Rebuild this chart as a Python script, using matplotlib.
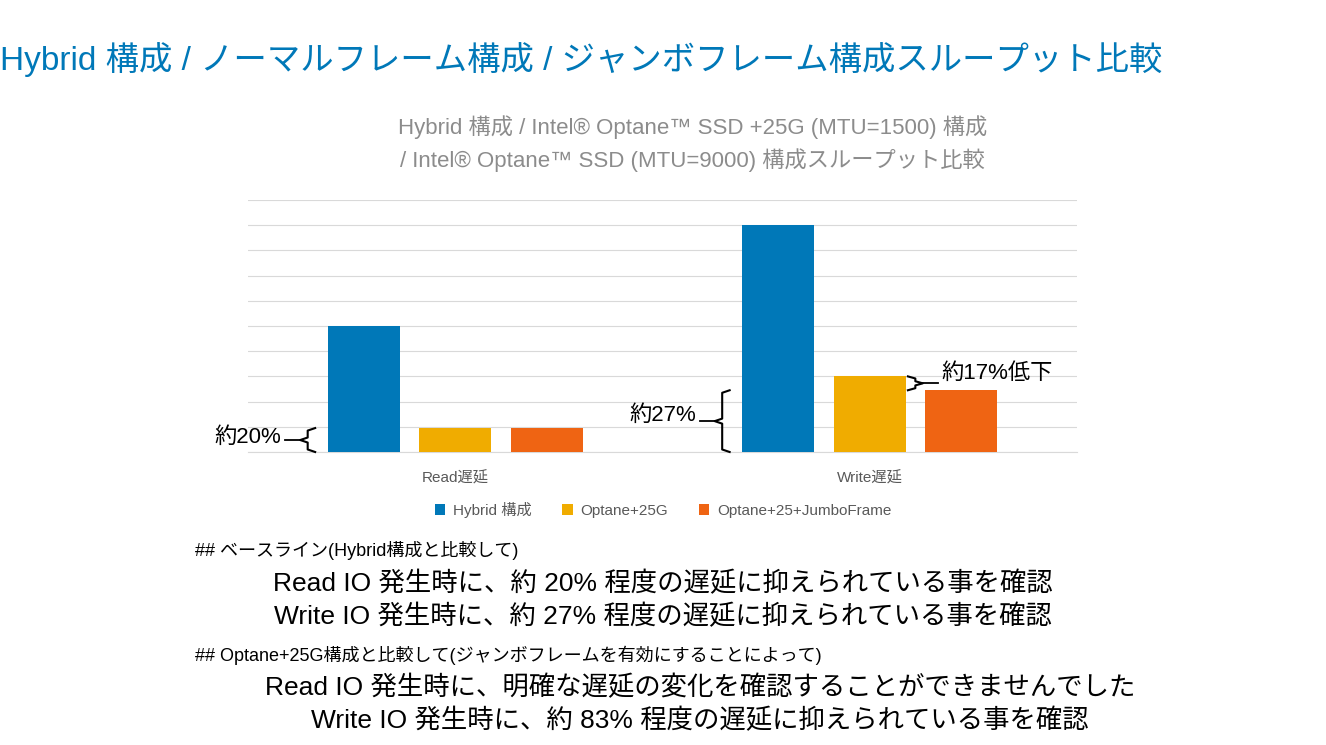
import matplotlib
matplotlib.use("Agg")
import matplotlib.pyplot as plt
import numpy as np

plt.rcParams["font.family"] = ["Liberation Sans", "Noto Sans CJK JP", "DejaVu Sans"]

categories = ["Read遅延", "Write遅延"]
series = ["Hybrid 構成", "Optane+25G", "Optane+25+JumboFrame"]
hybrid = [5.0, 9.0]
optane = [0.95, 3.0]
jumbo = [0.95, 2.45]
colors = ["#0078b8", "#f0ac00", "#ef6413"]

fig = plt.figure(figsize=(13.26, 7.45), dpi=100)
ax = fig.add_axes([248 / 1326, 1 - 452 / 745, 829 / 1326, 252 / 745])

x = np.arange(len(categories))
w = 0.174
step = 0.221
for i, (vals, c, lab) in enumerate(zip([hybrid, optane, jumbo], colors, series)):
    ax.bar(x + (i - 1) * step, vals, width=w, color=c, label=lab, zorder=3)

ax.set_xlim(-0.5, 1.5)
ax.set_ylim(0, 10)
ax.set_yticks(np.arange(0, 11, 1))
ax.yaxis.grid(True, color="#d9d9d9", linewidth=0.8)
ax.tick_params(left=False, labelleft=False, bottom=False, pad=10)
ax.set_xticks(x)
ax.set_xticklabels(categories, fontsize=11, color="#595959")
for s in ["top", "right", "left"]:
    ax.spines[s].set_visible(False)
ax.spines["bottom"].set_color("#d9d9d9")


def brace(xpos, y0, y1, label, side="left", ly=None):
    d = 0.018
    h = (y1 - y0)
    ym = (y0 + y1) / 2
    sgn = -1 if side == "left" else 1
    k = min(0.1, 0.15 * h)
    xs = [xpos, xpos + sgn * d, xpos + sgn * d, xpos + sgn * 2 * d,
          xpos + sgn * d, xpos + sgn * d, xpos]
    ys = [y0, y0 + k, ym - k, ym, ym + k, y1 - k, y1]
    ax.plot(xs, ys, color="black", linewidth=1.5, clip_on=False, zorder=4)
    ax.plot([xpos + sgn * 2 * d, xpos + sgn * 4 * d], [ym, ym], color="black",
            linewidth=1.3, clip_on=False)
    ax.text(xpos + sgn * 4.5 * d, ym if ly is None else ly, label,
            ha="right" if side == "left" else "left",
            va="center", fontsize=16, clip_on=False)


brace(x[0] - step - w / 2 - 0.03, 0, optane[0], "約20%", ly=optane[0] * 0.6)
brace(x[1] - step - w / 2 - 0.03, 0, jumbo[1], "約27%", ly=jumbo[1] * 0.6)
brace(x[1] + w / 2 + 0.005, jumbo[1], optane[1], "約17%低下", side="right",
      ly=optane[1] + 0.1)

fig.legend(loc="center", bbox_to_anchor=(0.5, 1 - 510 / 745), ncol=3, frameon=False,
           fontsize=11, handlelength=0.7, handleheight=0.7, columnspacing=2.0,
           handletextpad=0.5, labelcolor="#595959")

fig.text(0.0, 1 - 60 / 745, "Hybrid 構成 / ノーマルフレーム構成 / ジャンボフレーム構成スループット比較",
         fontsize=24, color="#0078b8", va="center")
fig.text(0.522, 1 - 127 / 745, "Hybrid 構成 / Intel® Optane™ SSD +25G (MTU=1500) 構成",
         fontsize=16, color="#8c8c8c", ha="center", va="center")
fig.text(0.522, 1 - 160 / 745, "/ Intel® Optane™ SSD (MTU=9000) 構成スループット比較",
         fontsize=16, color="#8c8c8c", ha="center", va="center")

fig.text(195 / 1326, 1 - 551 / 745, "## ベースライン(Hybrid構成と比較して)", fontsize=13, va="center")
fig.text(0.5, 1 - 583 / 745, "Read IO 発生時に、約 20% 程度の遅延に抑えられている事を確認",
         fontsize=19, ha="center", va="center")
fig.text(0.5, 1 - 616 / 745, "Write IO 発生時に、約 27% 程度の遅延に抑えられている事を確認",
         fontsize=19, ha="center", va="center")
fig.text(195 / 1326, 1 - 655 / 745, "## Optane+25G構成と比較して(ジャンボフレームを有効にすることによって)",
         fontsize=13, va="center")
fig.text(0.528, 1 - 687 / 745, "Read IO 発生時に、明確な遅延の変化を確認することができませんでした",
         fontsize=19, ha="center", va="center")
fig.text(0.528, 1 - 720 / 745, "Write IO 発生時に、約 83% 程度の遅延に抑えられている事を確認",
         fontsize=19, ha="center", va="center")

fig.savefig("out.png", dpi=100)
